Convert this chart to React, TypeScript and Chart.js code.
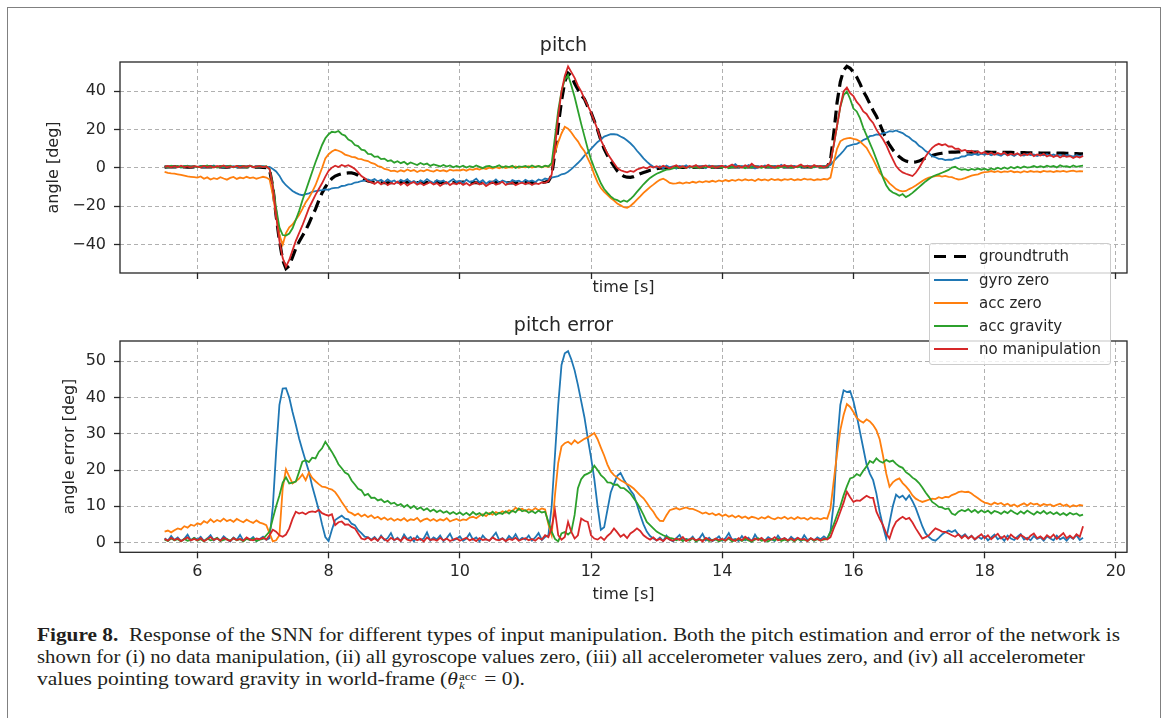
import React, { useEffect, useLayoutEffect, useRef } from 'react';
import { Chart, registerables } from 'chart.js';

Chart.register(...registerables);

const FONT = '"DejaVu Sans", sans-serif';
const TEXT = '#262626';

// ---------- time axis (s) ----------
const timeS = [
  5.5, 5.55, 5.6, 5.65, 5.7, 5.75, 5.8, 5.85, 5.9, 5.95,
  6, 6.05, 6.1, 6.15, 6.2, 6.25, 6.3, 6.35, 6.4, 6.45, 6.5, 6.55, 6.6, 6.65, 6.7, 6.75, 6.8, 6.85, 6.9, 6.95,
  7, 7.05, 7.1, 7.15, 7.2, 7.25, 7.3, 7.35, 7.4, 7.45, 7.5, 7.55, 7.6, 7.65, 7.7, 7.75, 7.8, 7.85, 7.9, 7.95,
  8, 8.05, 8.1, 8.15, 8.2, 8.25, 8.3, 8.35, 8.4, 8.45, 8.5, 8.55, 8.6, 8.65, 8.7, 8.75, 8.8, 8.85, 8.9, 8.95,
  9, 9.05, 9.1, 9.15, 9.2, 9.25, 9.3, 9.35, 9.4, 9.45, 9.5, 9.55, 9.6, 9.65, 9.7, 9.75, 9.8, 9.85, 9.9, 9.95,
  10, 10.05, 10.1, 10.15, 10.2, 10.25, 10.3, 10.35, 10.4, 10.45, 10.5, 10.55, 10.6, 10.65, 10.7, 10.75, 10.8, 10.85, 10.9, 10.95,
  11, 11.05, 11.1, 11.15, 11.2, 11.25, 11.3, 11.35, 11.4, 11.45, 11.5, 11.55, 11.6, 11.65, 11.7, 11.75, 11.8, 11.85, 11.9, 11.95,
  12, 12.05, 12.1, 12.15, 12.2, 12.25, 12.3, 12.35, 12.4, 12.45, 12.5, 12.55, 12.6, 12.65, 12.7, 12.75, 12.8, 12.85, 12.9, 12.95,
  13, 13.05, 13.1, 13.15, 13.2, 13.25, 13.3, 13.35, 13.4, 13.45, 13.5, 13.55, 13.6, 13.65, 13.7, 13.75, 13.8, 13.85, 13.9, 13.95,
  14, 14.05, 14.1, 14.15, 14.2, 14.25, 14.3, 14.35, 14.4, 14.45, 14.5, 14.55, 14.6, 14.65, 14.7, 14.75, 14.8, 14.85, 14.9, 14.95,
  15, 15.05, 15.1, 15.15, 15.2, 15.25, 15.3, 15.35, 15.4, 15.45, 15.5, 15.55, 15.6, 15.65, 15.7, 15.75, 15.8, 15.85, 15.9, 15.95,
  16, 16.05, 16.1, 16.15, 16.2, 16.25, 16.3, 16.35, 16.4, 16.45, 16.5, 16.55, 16.6, 16.65, 16.7, 16.75, 16.8, 16.85, 16.9, 16.95,
  17, 17.05, 17.1, 17.15, 17.2, 17.25, 17.3, 17.35, 17.4, 17.45, 17.5, 17.55, 17.6, 17.65, 17.7, 17.75, 17.8, 17.85, 17.9, 17.95,
  18, 18.05, 18.1, 18.15, 18.2, 18.25, 18.3, 18.35, 18.4, 18.45, 18.5, 18.55, 18.6, 18.65, 18.7, 18.75, 18.8, 18.85, 18.9, 18.95,
  19, 19.05, 19.1, 19.15, 19.2, 19.25, 19.3, 19.35, 19.4, 19.45, 19.5,
];

// ---------- pitch [deg] ----------
const groundtruthPitch = [
  0.4, 0.5, 0.5, 0.6, 0.6, 0.5, 0.5, 0.4, 0.4, 0.5,
  0.5, 0.5, 0.6, 0.6, 0.6, 0.5, 0.5, 0.5, 0.4, 0.4, 0.5, 0.5, 0.6, 0.6, 0.5, 0.5, 0.5, 0.4, 0.4, 0.4,
  0.3, 0.2, -1, -10, -25, -38, -48, -52.5, -51, -46.5, -42, -38.5, -35.5, -32.5, -29, -25, -21.5, -17, -13, -10,
  -7.5, -5.5, -4.2, -3.5, -3, -2.8, -2.6, -2.6, -3, -3.8, -5, -6, -6.8, -7.2, -7.5, -7.6, -7.7, -7.7, -7.7, -7.6,
  -7.6, -7.5, -7.5, -7.5, -7.4, -7.4, -7.5, -7.6, -7.7, -7.7, -7.6, -7.5, -7.4, -7.4, -7.5, -7.6, -7.7, -7.7, -7.6, -7.5,
  -7.5, -7.4, -7.4, -7.5, -7.6, -7.7, -7.8, -7.8, -7.7, -7.6, -7.5, -7.5, -7.6, -7.7, -7.8, -7.8, -7.8, -7.7, -7.7, -7.6,
  -7.6, -7.6, -7.7, -7.7, -7.6, -7.5, -7.3, -7, -4, 8, 22, 35, 45, 49.5, 48, 44, 41, 38, 36, 32,
  29, 24.5, 20, 14.5, 10, 6.5, 3.5, 1, -1.5, -3, -4.3, -4.8, -4.9, -4.5, -3.8, -3, -2.4, -1.8, -1.2, -0.8,
  -0.4, -0.1, 0.1, 0.2, 0.3, 0.3, 0.3, 0.3, 0.3, 0.3, 0.3, 0.3, 0.4, 0.4, 0.4, 0.4, 0.4, 0.4, 0.4, 0.4,
  0.4, 0.4, 0.5, 0.5, 0.5, 0.5, 0.5, 0.5, 0.5, 0.5, 0.5, 0.5, 0.5, 0.5, 0.5, 0.5, 0.5, 0.5, 0.5, 0.5,
  0.5, 0.5, 0.5, 0.5, 0.5, 0.5, 0.5, 0.5, 0.5, 0.5, 0.5, 0.5, 0.6, 4, 18, 34, 45, 51, 53, 52,
  50, 47.5, 44, 40, 37, 33.5, 30, 27, 23, 19, 15, 12, 9.5, 7.5, 5.8, 4.5, 3.6, 3.2, 3, 3.1,
  3.6, 4.4, 5.2, 5.9, 6.5, 7, 7.4, 7.7, 8, 8.2, 8.3, 8.3, 8.4, 8.4, 8.4, 8.4, 8.3, 8.3, 8.3, 8.3,
  8.3, 8.3, 8.2, 8.2, 8.2, 8.2, 8.1, 8.1, 8.1, 8, 8, 8, 8, 7.9, 7.9, 7.9, 7.9, 7.8, 7.8, 7.8,
  7.8, 7.8, 7.7, 7.7, 7.7, 7.6, 7.6, 7.5, 7.5, 7.4, 7.4,
];

const gyroZeroPitch = [
  0.8, 0.3, 1.1, 0.5, 0.9, 0.2, 0.7, 1.2, 0.4, 0.8,
  0.5, 1.0, 0.3, 0.9, 0.6, 1.3, 0.4, 0.8, 0.2, 1.0, 0.6, 0.9, 0.3, 1.1, 0.5, 0.7, 1.2, 0.4, 0.8, 0.6,
  0.9, 0.4, 0.6, -0.5, -1.8, -4, -7, -9, -10.5, -12, -13, -13.8, -14.2, -13.6, -13.2, -12.4, -12.1, -11.8, -11.6, -11.2,
  -11.4, -10.6, -10.4, -10.2, -9.4, -9.2, -8.6, -8.4, -7.6, -7.4, -6.8, -6.6, -6.0, -6.6, -5.8, -7.0, -6.2, -7.4, -6.0, -7.2,
  -6.5, -7.8, -6.2, -7.1, -5.9, -7.6, -6.8, -8.0, -6.4, -7.3, -5.8, -7.0, -7.9, -6.3, -7.2, -6.6, -8.1, -6.9, -5.8, -7.4,
  -6.7, -7.9, -6.1, -7.3, -6.8, -5.6, -7.5, -6.4, -8.2, -6.9, -7.4, -6.0, -7.7, -6.5, -7.2, -8.0, -6.3, -7.0, -6.6, -7.6,
  -6.2, -7.1, -6.5, -7.4, -6.0, -6.6, -5.5, -5.9, -5.0, -4.6, -4.2, -3.3, -3.0, -2.0, -0.6, 1.0, 2.6, 4.4, 6.4, 8.0,
  10.0, 11.8, 13.6, 14.8, 16.4, 17.0, 17.7, 17.6, 17.4, 16.4, 15.6, 14.3, 12.9, 11.2, 9.0, 7.1, 5.0, 3.3, 1.8, 0.6,
  0.2, 0.9, -0.2, 1.2, 0.4, 0.8, -0.3, 1.0, 0.5, 1.4, 0.1, 0.7, 1.1, 0.3, 0.9, -0.1, 1.3, 0.6, 0.2, 1.0,
  0.5, 1.2, 0.0, 0.8, 2.0, 0.4, 1.0, 0.3, 1.5, 0.6, -0.2, 0.9, 0.4, 1.3, 0.7, 0.1, 1.0, 0.5, 1.6, 0.3,
  0.8, 0.2, 1.1, 0.5, 0.9, 0.1, 1.2, 0.6, 0.3, 1.0, 0.5, 0.9, 0.7, 1.5, 3.6, 5.4, 7.1, 9.0, 11.2, 11.8,
  12.3, 12.6, 13.4, 14.6, 15.3, 16.6, 16.9, 17.5, 17.3, 18.2, 18.4, 19.2, 19.0, 19.6, 18.8, 18.2, 16.9, 16.0, 14.4, 13.4,
  11.6, 10.5, 8.8, 7.8, 6.2, 5.6, 4.8, 4.7, 4.1, 4.4, 4.3, 5.0, 5.1, 6.0, 6.1, 7.0, 6.7, 7.4, 6.8, 7.5,
  6.9, 7.6, 6.6, 7.3, 7.0, 6.4, 7.5, 6.8, 7.2, 6.3, 7.4, 6.9, 6.5, 7.3, 6.7, 7.1, 6.2, 7.0, 6.6, 7.2,
  6.4, 7.0, 6.3, 6.9, 6.1, 6.8, 6.5, 5.9, 6.7, 6.2, 6.6,
];

const accZeroPitch = [
  -2.0, -2.5, -2.8, -3.0, -3.3, -3.6, -4.0, -4.4, -4.6, -4.8,
  -5.0, -4.4, -5.6, -4.9, -6.0, -5.3, -5.8, -4.8, -5.5, -6.1, -5.2, -4.7, -5.7, -5.0, -5.4, -4.6, -5.3, -4.9, -5.6, -5.1,
  -4.6, -5.0, -6.0, -14, -25, -35, -40, -34, -31, -29.5, -27, -24.5, -21.5, -18, -15.5, -12.5, -9, -4.5, 0, 5,
  7.2, 8.6, 9.5, 9.0, 8.2, 7.0, 6.5, 5.8, 5.6, 4.8, 4.6, 3.9, 3.6, 2.6, 2.2, 1.0, 0.6, -0.5, -0.8, -1.6,
  -1.4, -2.0, -1.2, -1.8, -0.8, -1.6, -1.1, -2.1, -1.3, -1.7, -0.9, -1.5, -1.9, -1.0, -1.6, -1.2, -1.8, -0.9, -1.4, -1.1,
  -1.3, -0.8, -1.4, -0.6, -1.0, -0.3, -0.8, -0.1, -0.5, 0.2, -0.3, 0.4, -0.2, 0.6, 0.0, 0.5, 0.2, 0.8, 0.1, 0.6,
  0.3, 0.9, 0.2, 0.7, 1.0, 0.4, 0.9, 0.6, 2, 8, 13.5, 18, 21.5, 20.5, 18.5, 16, 13.9, 11, 8.7, 5,
  1.5, -3.5, -7.5, -10.5, -12.5, -14, -15.7, -17, -18.5, -19.5, -20.5, -20.8, -19.8, -18.3, -16.5, -14.8, -13, -11.5, -10, -8.7,
  -7.3, -6.2, -5.6, -6.5, -7.8, -8.2, -8.0, -7.6, -8.1, -7.5, -7.9, -7.2, -7.7, -7.0, -7.5, -6.9, -7.3, -6.7, -7.2, -6.5,
  -7.0, -6.3, -6.9, -6.2, -6.7, -6.0, -6.6, -5.9, -6.5, -6.1, -6.8, -5.8, -6.4, -6.0, -6.6, -5.7, -6.3, -5.9, -6.5, -5.8,
  -6.2, -5.7, -6.4, -5.9, -6.3, -5.6, -6.1, -5.8, -6.4, -5.9, -6.2, -5.7, -6.0, -5, 3, 10, 13.9, 15, 15.5, 15.7,
  15.2, 14.8, 13.8, 12.2, 10.5, 7.5, 4.5, 1, -2.5, -4.5, -6, -8, -9.5, -11, -11.8, -12.2, -12, -11, -10.2, -9.2,
  -8.0, -6.8, -5.8, -5.0, -4.6, -4.3, -4.0, -4.5, -4.1, -4.6, -4.8, -5.5, -6.0, -5.8, -5.3, -4.6, -4.0, -3.6, -3.3, -2.6,
  -2.2, -2.0, -1.6, -2.1, -1.7, -2.3, -1.8, -2.0, -1.5, -2.2, -1.9, -2.4, -1.7, -2.1, -1.6, -2.0, -1.8, -2.2, -1.5, -1.9,
  -1.7, -2.1, -1.6, -1.9, -1.5, -2.0, -1.7, -1.4, -1.9, -1.6, -1.8,
];

const accGravityPitch = [
  0.9, 0.4, 1.2, 0.6, 1.0, 0.3, 0.8, 1.1, 0.5, 0.9,
  0.4, 1.0, 0.7, 1.3, 0.5, 0.9, 0.2, 1.1, 0.6, 0.8, 1.2, 0.4, 0.9, 0.6, 1.0, 0.3, 1.2, 0.7, 0.5, 1.0,
  0.6, 0.9, -0.5, -9, -21, -31, -35, -35.3, -34.2, -31.5, -27, -22.5, -17, -12, -7, -2, 3, 7.5, 12, 15.5,
  17.6, 18.9, 18.6, 19.3, 17.6, 16.9, 14.8, 14.0, 12.0, 11.4, 9.6, 9.2, 7.4, 7.2, 5.8, 6.0, 4.6, 4.9, 3.6, 4.0,
  2.8, 3.5, 2.5, 3.2, 1.9, 2.9, 2.2, 1.5, 2.6, 1.8, 2.3, 1.1, 1.9, 1.4, 0.8, 1.6, 0.7, 1.3, 0.4, 1.1,
  0.5, 1.2, 0.2, 0.9, 0.4, 1.3, 0.6, -0.1, 0.8, 1.1, 0.3, 0.7, 1.4, 0.2, 0.9, 0.5, 1.2, 0.0, 0.8, 0.6,
  1.1, 0.3, 1.3, 0.5, 1.0, 0.4, 1.2, 0.8, 2.5, 16, 30, 40, 46, 48.5, 43, 37, 30, 23, 16.5, 10,
  4.5, 0, -4, -8, -11, -13, -14.8, -16.2, -16.8, -17.8, -16.9, -17.6, -16.2, -14.5, -12.5, -10.5, -8.5, -6.8, -5.2, -4.0,
  -3.0, -2.3, -1.5, -0.9, -0.7, -0.2, 0.4, -0.1, 0.6, 0.0, 0.8, 0.2, 0.5, -0.2, 0.7, 0.3, 0.9, 0.1, 0.6, 0.4,
  0.2, 0.8, -0.1, 0.6, 0.3, 1.0, 0.4, -0.2, 0.7, 0.2, 0.9, 0.5, 0.1, 0.8, 0.3, 1.1, 0.4, 0.0, 0.7, 0.5,
  0.9, 0.2, 0.7, 0.4, 1.1, 0.3, 0.8, 0.1, 0.6, 1.0, 0.4, 0.8, 0.6, 3, 12, 22, 32, 38, 40, 36,
  31, 29.5, 26, 21, 17, 13, 9, 4.5, 0, -5, -9, -11.5, -12.8, -13.5, -14.5, -13.6, -15.2, -14.2, -13.0, -11.5,
  -10, -8.5, -7, -5.8, -4.6, -3.8, -3.2, -2.5, -1.8, -1, 0.2, 0.6, -0.4, -0.9, -0.6, -1.2, -0.5, -1.0, -0.3, -0.9,
  -0.4, -1.1, -0.2, -0.8, 0.1, -0.6, 0.3, -0.4, 0.5, -0.2, 0.6, 0.0, 0.8, 0.2, 0.5, 1.0, 0.3, 0.9, 0.4, 1.2,
  0.6, 1.1, 0.3, 1.4, 0.7, 0.9, 0.4, 1.3, 0.6, 1.0, 1.2,
];

const noManipulationPitch = [
  0.6, 1.0, 0.3, 0.9, 0.4, 1.2, 0.5, 0.8, 0.2, 0.9,
  0.7, 0.3, 1.1, 0.5, 0.9, 0.2, 1.0, 0.6, 1.3, 0.4, 0.8, 0.5, 1.1, 0.3, 0.9, 0.6, 1.2, 0.4, 0.7, 1.0,
  0.5, 0.8, -0.5, -10, -25, -38, -47, -51.5, -48, -43, -38, -34, -30, -25.5, -21, -17.5, -14, -11, -8, -4.5,
  -1.5, 0.2, 1.2, 0.5, 1.6, 0.9, 1.5, 0.6, -0.5, -2.3, -4.2, -5.4, -6.9, -7.4, -8.3, -7.2, -8.6, -7.5, -9.0, -7.8,
  -8.4, -7.1, -8.8, -7.6, -9.2, -8.0, -7.3, -8.7, -7.7, -9.0, -8.1, -7.4, -8.6, -7.9, -9.3, -8.2, -7.5, -8.9, -7.8, -8.5,
  -7.6, -8.8, -7.9, -9.1, -8.2, -7.4, -8.6, -7.8, -9.4, -8.3, -7.5, -8.7, -8.0, -7.2, -8.9, -8.1, -7.6, -9.0, -8.2, -7.7,
  -8.5, -7.6, -8.9, -7.9, -8.4, -7.5, -7.8, -6.8, -3.5, 10, 27, 40, 48, 53, 50, 47, 43, 40, 36, 32.5,
  29, 24.5, 20, 14.5, 11, 7.5, 5, 2.5, 0, -1.2, -1.8, -2.3, -1.5, -2.0, -0.8, -0.2, 0.4, -0.3, 0.8, 0.2,
  0.9, 0.1, 1.2, 0.5, -0.2, 0.8, 1.4, 0.3, 0.9, 0.0, 1.1, 0.6, 1.5, 0.2, 0.8, 1.3, 0.4, 1.0, 0.1, 0.7,
  1.2, 0.3, 0.9, 1.8, 0.5, 1.0, 0.2, 1.4, 0.6, 2.2, 0.8, 0.3, 1.1, 0.5, 1.6, 0.7, 0.2, 1.2, 0.8, 1.5,
  0.6, 1.3, 0.4, 1.0, 1.8, 0.5, 1.2, 0.3, 1.5, 0.7, 1.1, 0.4, 1.2, 3, 12, 22, 32, 40, 42, 39,
  37.5, 34.5, 32.5, 29.5, 28.2, 25.5, 23.5, 20, 17.5, 15, 12, 8, 4.5, 1, -1, -2.3, -3, -3.6, -4.2, -2.5,
  0, 3, 6, 8.5, 10.5, 11.8, 12.6, 11.9, 12.4, 11.2, 11.3, 10.0, 10.1, 8.9, 9.4, 8.4, 9.0, 7.9, 8.6, 7.6,
  8.3, 7.2, 8.1, 6.9, 7.8, 7.1, 8.0, 6.6, 7.5, 6.9, 7.7, 6.4, 7.3, 6.8, 7.6, 6.2, 7.1, 6.5, 7.4, 6.0,
  6.8, 5.7, 6.6, 5.5, 6.4, 5.8, 6.2, 5.2, 6.0, 5.4, 6.3,
];

// ---------- pitch error [deg] ----------
const gyroZeroError = [
  1.2, 0.5, 1.8, 0.7, 1.4, 0.4, 1.0, 2.2, 0.6, 1.3,
  0.8, 1.6, 0.4, 1.1, 2.0, 0.6, 1.3, 0.5, 1.7, 0.9, 0.3, 1.4, 0.7, 2.1, 0.5, 1.2, 0.8, 1.5, 0.4, 1.0,
  1.6, 0.7, 1.2, 10, 25, 38, 42.5, 42.6, 40, 36, 32.5, 28.7, 25.5, 22.5, 19.5, 15.5, 12.3, 9, 5, 1.5,
  0.4, 3.5, 6.2, 6.8, 7.4, 6.6, 6.4, 5.2, 4.8, 3.4, 2.6, 1.6, 1.4, 0.8, 1.5, 0.5, 1.9, 0.7, 1.2, 2.6,
  0.6, 1.3, 0.4, 2.2, 0.9, 1.5, 0.3, 1.8, 0.7, 1.1, 2.8, 0.5, 1.4, 0.8, 1.9, 0.4, 1.2, 2.4, 0.6, 1.0,
  1.7, 0.5, 1.1, 2.5, 0.8, 1.4, 0.3, 1.9, 0.9, 0.5, 1.6, 2.7, 0.7, 1.2, 0.4, 1.8, 0.9, 2.3, 0.6, 1.3,
  0.8, 1.9, 0.5, 1.4, 2.6, 0.7, 1.5, 2.0, 10, 24, 38, 49, 52.2, 52.8, 50.5, 47.5, 43.5, 39, 34.5, 28.8,
  23.5, 17.5, 10, 3.5, 4.2, 9, 13.8, 16.2, 18.4, 19.2, 17.4, 15.9, 14.4, 13.2, 10.5, 7.6, 5, 3, 1.8, 1.1,
  0.6, 1.4, 0.4, 1.9, 0.8, 0.3, 1.2, 2.1, 0.5, 1.0, 0.7, 1.6, 0.3, 1.1, 2.4, 0.6, 1.3, 0.4, 0.9, 1.7,
  0.5, 1.2, 2.6, 0.7, 1.0, 0.4, 1.8, 0.6, 1.3, 0.3, 2.2, 0.8, 1.1, 0.5, 1.5, 0.9, 0.4, 1.9, 0.7, 1.2,
  0.5, 1.6, 0.8, 1.3, 0.4, 2.0, 0.7, 1.1, 0.5, 1.4, 0.9, 1.7, 1.0, 3, 11, 27, 38, 42, 41.5, 41.8,
  39, 35, 30.5, 26, 21.5, 19, 17.2, 13.5, 8.5, 4.5, 1.1, 5.5, 10, 13.2, 12.4, 12.9, 11.8, 13.0, 11.4, 9.5,
  7, 4.5, 2.5, 1.5, 0.8, 0.5, 1.3, 2.2, 2.8, 3.3, 2.9, 3.4, 2.2, 1.6, 2.3, 1.2, 1.9, 0.8, 1.6, 1.0,
  1.8, 0.6, 1.4, 2.2, 0.9, 1.5, 0.5, 1.9, 1.1, 0.7, 1.6, 2.3, 0.8, 1.3, 0.6, 1.8, 1.0, 1.4, 0.5, 1.7,
  1.1, 0.6, 1.9, 0.9, 1.4, 0.5, 1.6, 1.0, 2.0, 0.7, 1.3,
];

const accZeroError = [
  3.0, 3.3, 2.8, 3.4, 3.9, 3.6, 4.5, 4.1, 4.9, 4.6,
  5.3, 5.0, 5.9, 5.4, 6.4, 5.6, 6.2, 5.8, 6.6, 5.9, 6.3, 5.7, 6.5, 6.0, 5.6, 6.3, 5.8, 5.4, 6.1, 5.5,
  5.2, 4.8, 2.5, 0.3, 0.6, 2.0, 15, 20.2, 18.2, 16.3, 16.9, 17.6, 18.8, 17.2, 19.3, 17.8, 16.9, 16.1, 15.4, 15.3,
  14.9, 14.6, 13.9, 12.6, 11.2, 9.9, 8.5, 8.1, 7.5, 8.0, 7.2, 7.7, 7.0, 7.5, 6.7, 7.1, 6.4, 6.9, 6.2, 6.7,
  6.0, 6.5, 6.1, 6.7, 5.9, 6.4, 6.2, 6.8, 5.8, 6.3, 6.6, 6.0, 6.5, 5.9, 6.4, 6.1, 6.7, 5.8, 6.2, 6.5,
  6.0, 6.4, 6.2, 6.9, 7.1, 6.7, 7.4, 7.8, 7.3, 8.1, 7.7, 8.4, 8.0, 8.6, 8.2, 8.9, 8.6, 9.6, 9.0, 9.3,
  8.7, 9.2, 8.8, 9.5, 8.9, 9.4, 9.1, 5.0, 2.0, 13, 22, 26.5, 27.4, 27.8, 27.1, 28.2, 27.4, 28.0, 28.6, 29.0,
  29.6, 30.2, 28.5, 26.2, 24.0, 21.5, 19.6, 18.6, 17.9, 17.2, 16.7, 16.1, 15.6, 14.9, 14.0, 13.0, 12.2, 11.0, 9.6, 8.5,
  7.0, 6.0, 5.9, 7.5, 8.9, 9.2, 9.5, 9.1, 9.4, 9.7, 9.3, 9.3, 8.9, 8.5, 8.0, 8.3, 7.8, 8.1, 7.5, 7.9,
  7.3, 7.7, 7.1, 7.5, 6.9, 7.4, 6.8, 7.2, 6.6, 7.1, 6.9, 6.5, 7.0, 6.6, 7.2, 6.7, 6.4, 6.9, 6.6, 7.1,
  6.5, 6.9, 6.4, 7.0, 6.6, 6.8, 6.3, 6.9, 6.5, 6.7, 6.4, 6.8, 6.6, 9.4, 17, 24.5, 31, 35.2, 38.2, 37.4,
  36.0, 34.4, 33.6, 33.1, 34.0, 33.4, 32.4, 31.0, 28.5, 24.0, 19.0, 15.4, 16.6, 17.3, 17.7, 16.4, 15.5, 14.4, 13.0, 12.1,
  11.6, 11.2, 11.5, 11.8, 12.1, 12.0, 12.5, 12.2, 12.6, 12.5, 13.1, 13.4, 13.9, 14.1, 13.9, 14.0, 13.5, 12.8, 12.2, 11.5,
  11.0, 10.8, 10.4, 11.0, 10.6, 10.9, 10.3, 10.7, 10.1, 10.5, 9.9, 10.4, 10.8, 10.2, 10.9, 10.5, 10.7, 10.1, 10.6, 10.3,
  10.5, 10.0, 10.4, 10.7, 10.1, 10.5, 9.8, 10.3, 10.0, 10.4, 10.2,
];

const accGravityError = [
  0.8, 0.4, 1.1, 0.6, 0.9, 0.3, 1.0, 0.5, 0.7, 1.2,
  0.5, 0.9, 0.3, 1.1, 0.6, 0.8, 1.3, 0.4, 0.7, 1.0, 0.5, 1.2, 0.6, 0.9, 0.3, 1.0, 0.7, 1.1, 0.4, 0.8,
  1.0, 2.0, 3.0, 6.6, 10, 13, 16.5, 18, 16.3, 16.5, 16.8, 19.5, 22.3, 22.7, 22.2, 23.4, 23.2, 25.0, 26.0, 27.8,
  26.4, 25.0, 23.4, 21.6, 20.5, 19.3, 18.8, 17.1, 16.0, 14.8, 14.4, 13.0, 13.4, 12.3, 12.4, 11.6, 11.9, 11.1, 11.5, 10.7,
  11.0, 10.2, 10.6, 9.8, 10.4, 9.5, 10.1, 9.2, 9.7, 8.9, 9.4, 8.6, 9.1, 8.4, 8.9, 8.2, 8.6, 7.9, 8.4, 7.8,
  8.3, 7.6, 8.2, 7.5, 8.4, 7.7, 8.1, 7.4, 8.3, 7.8, 8.5, 7.6, 8.2, 7.9, 8.6, 8.0, 8.8, 8.3, 9.4, 8.6,
  8.9, 8.2, 8.7, 8.1, 8.8, 8.3, 8.5, 5.7, 3.0, 1.0, 0.3, 2.5, 2.9, 2.2, 3.0, 7.6, 15.0, 17.5, 18.6, 19.0,
  19.5, 21.2, 20.0, 18.6, 17.8, 16.6, 16.5, 15.9, 16.0, 15.1, 15.0, 14.3, 13.5, 12.2, 11.0, 9.4, 7.6, 5.7, 4.8, 3.9,
  3.0, 2.5, 2.0, 1.6, 1.3, 1.1, 0.6, 1.0, 0.4, 0.9, 0.5, 1.2, 0.3, 0.8, 0.6, 1.1, 0.4, 0.7, 0.9, 0.3,
  0.8, 0.5, 1.1, 0.3, 0.7, 0.9, 0.4, 1.0, 0.6, 0.2, 0.8, 1.2, 0.5, 0.7, 0.3, 0.9, 0.6, 1.1, 0.4, 0.8,
  0.5, 0.9, 0.3, 1.0, 0.6, 0.8, 0.4, 1.1, 0.5, 0.9, 0.6, 0.8, 1.0, 2.9, 5.0, 7.6, 10.0, 13.0, 15.5, 17.7,
  18.0, 18.9, 18.4, 19.8, 21.0, 22.5, 22.0, 23.2, 22.4, 22.0, 22.8, 22.3, 22.6, 21.7, 21.0, 20.6, 19.4, 18.8, 17.9, 17.3,
  16.4, 15.2, 13.8, 12.6, 11.2, 10.6, 9.8, 9.7, 9.2, 9.4, 8.0, 7.6, 8.5, 9.0, 8.6, 9.2, 8.4, 9.0, 8.2, 8.9,
  8.3, 8.8, 8.0, 8.7, 8.4, 7.9, 8.6, 8.1, 8.9, 8.3, 7.8, 8.6, 8.0, 8.8, 8.2, 7.7, 8.5, 8.0, 8.7, 7.9,
  8.4, 7.8, 8.3, 7.6, 8.1, 7.5, 8.2, 7.7, 8.0, 7.4, 7.7,
];

const noManipulationError = [
  1.0, 0.5, 1.3, 0.7, 1.1, 0.4, 0.9, 1.4, 0.6, 1.0,
  0.6, 1.2, 0.4, 0.9, 1.5, 0.7, 1.1, 0.5, 1.3, 0.8, 0.4, 1.2, 0.7, 1.0, 0.5, 1.4, 0.8, 0.6, 1.1, 0.9,
  1.3, 0.8, 2.0, 3.5, 3.0, 2.0, 1.6, 2.2, 3.9, 6.5, 8.5, 8.0, 8.3, 7.8, 8.4, 8.6, 8.4, 9.0, 8.1, 7.7,
  7.4, 7.8, 4.8, 5.6, 5.8, 4.9, 5.0, 4.3, 3.9, 2.5, 1.1, 0.8, 1.4, 0.6, 1.2, 0.5, 1.6, 0.9, 0.4, 1.3,
  0.7, 1.1, 0.4, 1.5, 0.8, 0.5, 1.2, 0.6, 1.0, 0.3, 1.4, 0.7, 0.9, 0.5, 1.3, 0.6, 1.1, 0.4, 0.8, 1.2,
  0.5, 0.9, 1.3, 0.6, 1.0, 0.4, 1.2, 0.7, 0.9, 0.5, 1.4, 0.8, 0.6, 1.1, 0.4, 1.0, 0.7, 1.3, 0.5, 0.9,
  1.2, 0.6, 1.0, 0.5, 1.3, 0.8, 2.0, 1.5, 4.0, 8.9, 2.0, 0.8, 1.5, 5.7, 2.9, 1.1, 2.0, 6.6, 6.0, 5.7,
  2.0, 1.1, 0.8, 1.5, 0.7, 1.8, 2.6, 3.9, 2.8, 1.6, 2.2, 1.2, 2.5, 3.1, 3.9, 3.2, 2.0, 1.3, 0.8, 1.4,
  0.6, 1.0, 0.4, 1.3, 0.8, 0.5, 1.1, 0.7, 1.5, 0.4, 0.9, 1.2, 0.6, 1.0, 0.3, 1.3, 0.8, 0.5, 1.1, 0.7,
  1.0, 0.5, 1.4, 0.8, 0.4, 1.2, 0.6, 1.6, 0.9, 0.5, 1.1, 0.7, 1.3, 0.4, 1.0, 0.8, 1.5, 0.6, 0.9, 1.2,
  0.6, 1.1, 0.5, 1.3, 0.8, 1.0, 0.4, 1.2, 0.7, 1.0, 0.5, 1.1, 0.8, 1.5, 3.9, 6.0, 8.5, 11.0, 14.0, 12.5,
  11.2, 11.6, 11.5, 12.2, 12.9, 12.4, 12.3, 8.5, 6.5, 4.8, 2.5, 1.1, 3.9, 5.7, 6.5, 7.1, 6.4, 6.8, 5.5, 3.9,
  2.5, 1.1, 1.5, 2.0, 3.0, 3.9, 3.5, 3.0, 2.9, 2.5, 2.0, 1.6, 2.3, 1.2, 2.0, 1.1, 1.8, 0.9, 1.6, 2.3,
  1.2, 2.0, 0.9, 1.7, 2.4, 1.1, 1.8, 0.8, 2.2, 1.4, 1.0, 2.1, 1.5, 0.8, 1.9, 2.5, 1.2, 1.7, 0.9, 2.0,
  1.3, 2.2, 1.0, 1.8, 2.6, 1.2, 1.9, 1.1, 2.3, 1.6, 4.5,
];

// ---------- axes ticks ----------
const xTickValues = [6, 8, 10, 12, 14, 16, 18, 20];
const xTickLabels = ['6', '8', '10', '12', '14', '16', '18', '20'];
const pitchTickValues = [-40, -20, 0, 20, 40];
const pitchTickLabels = ['\u221240', '\u221220', '0', '20', '40'];
const errorTickValues = [0, 10, 20, 30, 40, 50];
const errorTickLabels = ['0', '10', '20', '30', '40', '50'];

// ---------- legend ----------
const seriesNames = ['groundtruth', 'gyro zero', 'acc zero', 'acc gravity', 'no manipulation'];
const seriesColors = ['#000000', '#1f77b4', '#ff7f0e', '#2ca02c', '#d62728'];

const toPoints = (vals: number[]) => vals.map((v, i) => ({ x: timeS[i], y: v }));

const framePlugin = {
  id: 'axesFrame',
  afterDraw(chart: any) {
    const { ctx, chartArea } = chart;
    ctx.save();
    ctx.strokeStyle = '#262626';
    ctx.lineWidth = 1.3;
    ctx.strokeRect(chartArea.left, chartArea.top, chartArea.right - chartArea.left, chartArea.bottom - chartArea.top);
    ctx.restore();
  },
};

const tickFont = { family: FONT, size: 16, lineHeight: 1 };

function xScale(showLabels: boolean, height: number, titlePadBottom: number) {
  return {
    type: 'linear',
    min: 4.82,
    max: 20.17,
    afterBuildTicks: (axis: any) => {
      axis.ticks = xTickValues.map((v) => ({ value: v }));
    },
    afterFit: (axis: any) => {
      axis.height = height;
    },
    ticks: {
      autoSkip: false,
      maxRotation: 0,
      minRotation: 0,
      padding: 6,
      color: TEXT,
      font: tickFont,
      callback: (v: number) => (showLabels ? xTickLabels[xTickValues.indexOf(v)] : ''),
    },
    grid: { color: '#b0b0b0', lineWidth: 1, tickLength: 6, tickColor: '#262626', tickWidth: 1.3 },
    border: { display: false, dash: [4, 3] },
    title: {
      display: true,
      text: 'time [s]',
      color: TEXT,
      font: { family: FONT, size: 16, lineHeight: 1 },
      padding: { top: 0, bottom: titlePadBottom },
    },
  };
}

function yScale(min: number, max: number, values: number[], labels: string[], title: string, titlePadTop: number) {
  return {
    type: 'linear',
    min,
    max,
    afterBuildTicks: (axis: any) => {
      axis.ticks = values.map((v) => ({ value: v }));
    },
    afterFit: (axis: any) => {
      axis.width = 120;
    },
    ticks: {
      autoSkip: false,
      padding: 8,
      color: TEXT,
      font: tickFont,
      callback: (v: number) => labels[values.indexOf(v)],
    },
    grid: { color: '#b0b0b0', lineWidth: 1, tickLength: 6, tickColor: '#262626', tickWidth: 1.3 },
    border: { display: false, dash: [4, 3] },
    title: {
      display: true,
      text: title,
      color: TEXT,
      font: { family: FONT, size: 16, lineHeight: 1 },
      padding: { top: titlePadTop, bottom: 0 },
    },
  };
}

function lineDataset(idx: number, values: number[]) {
  const isTruth = idx === 0;
  return {
    label: seriesNames[idx],
    data: toPoints(values),
    borderColor: seriesColors[idx],
    backgroundColor: seriesColors[idx],
    borderWidth: isTruth ? 3.2 : 1.8,
    borderDash: isTruth ? [12, 6] : [],
    pointRadius: 0,
    tension: 0,
    fill: false,
    order: 5 - idx,
  };
}

const captionWidths = [1083, 1048, 488];

export default function App() {
  const topRef = useRef<HTMLCanvasElement>(null);
  const botRef = useRef<HTMLCanvasElement>(null);
  const lineRefs = useRef<(HTMLDivElement | null)[]>([]);

  useEffect(() => {
    const common = {
      animation: false,
      responsive: false,
      devicePixelRatio: 1,
      events: [],
      normalized: true,
    };
    const top = new Chart(topRef.current as HTMLCanvasElement, {
      type: 'line',
      data: {
        datasets: [
          lineDataset(0, groundtruthPitch),
          lineDataset(1, gyroZeroPitch),
          lineDataset(2, accZeroPitch),
          lineDataset(3, accGravityPitch),
          lineDataset(4, noManipulationPitch),
        ],
      },
      options: {
        ...common,
        layout: { padding: { left: 0, right: 40, top: 0, bottom: 0 } },
        scales: {
          x: xScale(false, 27, 4.5),
          y: yScale(-54.8, 55.3, pitchTickValues, pitchTickLabels, 'angle [deg]', 45.5),
        },
        plugins: {
          legend: { display: false },
          tooltip: { enabled: false },
          title: {
            display: true,
            text: 'pitch',
            color: TEXT,
            font: { family: FONT, size: 19, weight: 'normal', lineHeight: 1.2 },
            padding: { top: 35, bottom: 4.2 },
          },
        },
      } as any,
      plugins: [framePlugin],
    } as any);

    const bot = new Chart(botRef.current as HTMLCanvasElement, {
      type: 'line',
      data: {
        datasets: [
          lineDataset(1, gyroZeroError),
          lineDataset(2, accZeroError),
          lineDataset(3, accGravityError),
          lineDataset(4, noManipulationError),
        ],
      },
      options: {
        ...common,
        layout: { padding: { left: 0, right: 40, top: 0, bottom: 0 } },
        scales: {
          x: xScale(true, 57.7, 7),
          y: yScale(-2.7, 55.6, errorTickValues, errorTickLabels, 'angle error [deg]', 62),
        },
        plugins: {
          legend: { display: false },
          tooltip: { enabled: false },
          title: {
            display: true,
            text: 'pitch error',
            color: TEXT,
            font: { family: FONT, size: 19, weight: 'normal', lineHeight: 1.2 },
            padding: { top: 15, bottom: 3.2 },
          },
        },
      } as any,
      plugins: [framePlugin],
    } as any);

    return () => {
      top.destroy();
      bot.destroy();
    };
  }, []);

  useLayoutEffect(() => {
    lineRefs.current.forEach((el, i) => {
      if (!el) return;
      el.style.transform = 'none';
      const w = el.getBoundingClientRect().width;
      if (w > 0) el.style.transform = `scaleX(${captionWidths[i] / w})`;
    });
  }, []);

  const legendCenters = [12, 36, 59, 82, 105];

  const lineStyle: React.CSSProperties = {
    whiteSpace: 'nowrap',
    width: 'max-content',
    transformOrigin: 'left center',
    height: 22,
  };

  return (
    <div
      style={{
        position: 'fixed',
        left: 0,
        top: 0,
        width: 1167,
        height: 718,
        background: '#ffffff',
        overflow: 'hidden',
      }}
    >
      <div
        style={{
          position: 'absolute',
          left: 7,
          top: 7,
          width: 1154,
          height: 730,
          boxSizing: 'border-box',
          borderLeft: '1.5px solid #808080',
          borderTop: '1.5px solid #808080',
          borderRight: '1.5px solid #808080',
        }}
      />
      <canvas ref={topRef} width={1167} height={300} style={{ position: 'absolute', left: 0, top: 0 }} />
      <canvas ref={botRef} width={1167} height={310} style={{ position: 'absolute', left: 0, top: 300 }} />

      <div
        style={{
          position: 'absolute',
          left: 929,
          top: 243,
          width: 182,
          height: 122,
          boxSizing: 'border-box',
          background: 'rgba(255,255,255,0.8)',
          border: '1px solid #cccccc',
          borderRadius: 3,
          fontFamily: FONT,
          fontSize: 15,
          color: TEXT,
        }}
      >
        {seriesNames.map((name, i) => (
          <div key={name} style={{ position: 'absolute', left: 0, top: legendCenters[i] - 11, height: 22, width: '100%' }}>
            <div
              style={
                i === 0
                  ? {
                      position: 'absolute',
                      left: 4,
                      top: 9.5,
                      width: 34,
                      height: 3.3,
                      background: 'repeating-linear-gradient(to right, #000 0px, #000 12px, transparent 12px, transparent 20px)',
                    }
                  : { position: 'absolute', left: 4, top: 10.2, width: 34, height: 1.8, background: seriesColors[i] }
              }
            />
            <div style={{ position: 'absolute', left: 49, top: 0, lineHeight: '22px', whiteSpace: 'nowrap' }}>{name}</div>
          </div>
        ))}
      </div>

      <div
        style={{
          position: 'absolute',
          left: 37,
          top: 624,
          fontFamily: '"Liberation Serif", "DejaVu Serif", serif',
          fontSize: 18,
          lineHeight: '22px',
          color: '#231f20',
        }}
      >
        <div ref={(el) => { lineRefs.current[0] = el; }} style={lineStyle}>
          <b>Figure 8.</b>&nbsp; Response of the SNN for different types of input manipulation. Both the pitch estimation and error of the network is
        </div>
        <div ref={(el) => { lineRefs.current[1] = el; }} style={lineStyle}>
          shown for (i) no data manipulation, (ii) all gyroscope values zero, (iii) all accelerometer values zero, and (iv) all accelerometer
        </div>
        <div ref={(el) => { lineRefs.current[2] = el; }} style={lineStyle}>
          values pointing toward gravity in world-frame (<i>θ</i>
          <span
            style={{
              display: 'inline-block',
              verticalAlign: '-4px',
              lineHeight: '9px',
              fontSize: 11,
              margin: '0 2px 0 1px',
            }}
          >
            <span style={{ display: 'block' }}>acc</span>
            <span style={{ display: 'block', fontStyle: 'italic' }}>k</span>
          </span>
          {' = 0).'}
        </div>
      </div>
    </div>
  );
}
